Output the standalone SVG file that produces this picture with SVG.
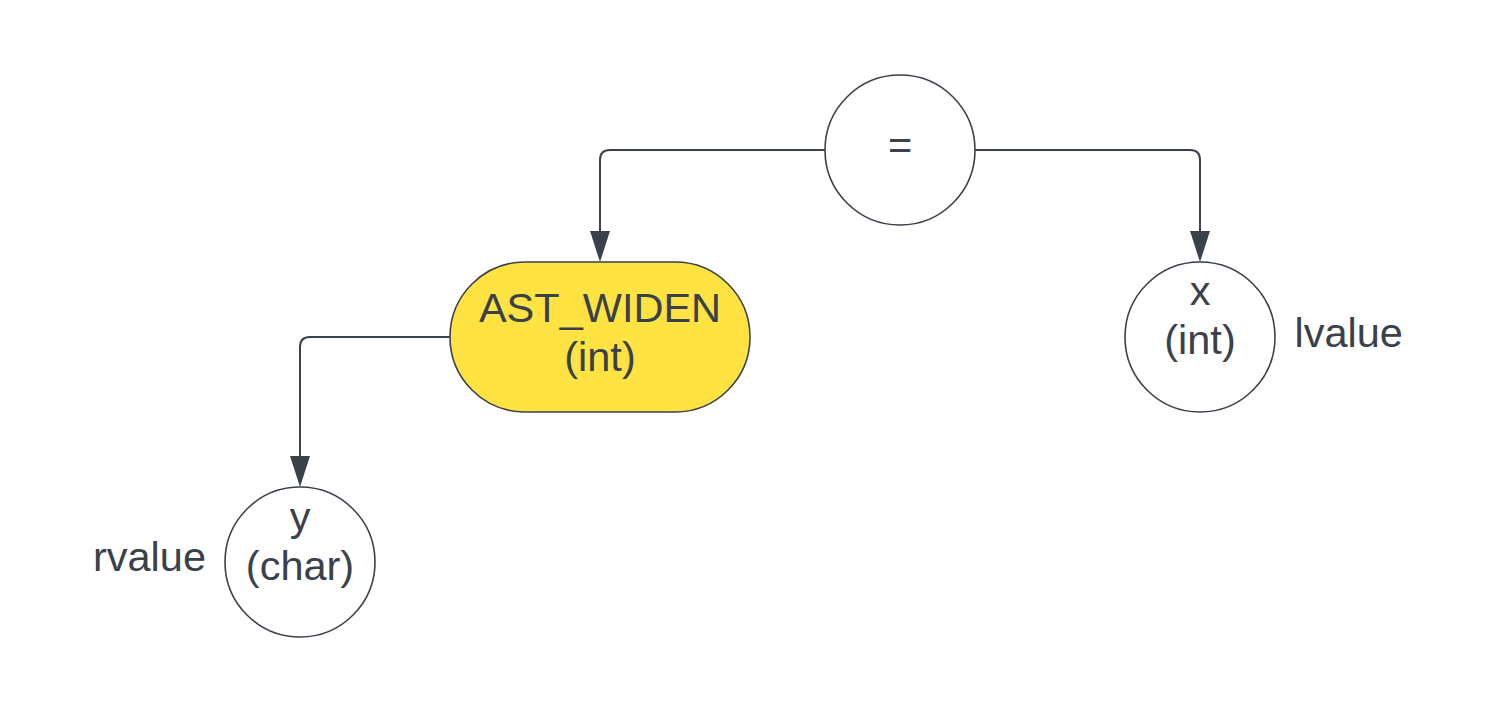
<svg xmlns="http://www.w3.org/2000/svg" width="1500" height="713" viewBox="0 0 1500 713">
  <style>
    .node { fill: #ffffff; stroke: #3a414a; stroke-width: 1.6; }
    .hl { fill: #ffe342; }
    .edge { fill: none; stroke: #3a414a; stroke-width: 2; }
    .t { font-family: "Liberation Sans", Arial, sans-serif; font-size: 41.5px; fill: #3a414a; text-anchor: middle; }
    .lbl { font-family: "Liberation Sans", Arial, sans-serif; font-size: 41.5px; fill: #3a414a; }
  </style>
  <defs>
    <marker id="arrow" viewBox="0 0 31 20" refX="24" refY="10" markerWidth="31" markerHeight="20" markerUnits="userSpaceOnUse" orient="auto">
      <path d="M0,0 L31,10 L0,20 Z" fill="#3a414a"/>
    </marker>
  </defs>
  <rect width="1500" height="713" fill="#ffffff"/>
  <g id="connectors">
    <path class="edge" d="M825,150 H610 Q600,150 600,160 V255" marker-end="url(#arrow)"/>
    <path class="edge" d="M975,150 H1190 Q1200,150 1200,160 V255" marker-end="url(#arrow)"/>
    <path class="edge" d="M450,337 H310 Q300,337 300,347 V480" marker-end="url(#arrow)"/>
  </g>
  <g id="node-assign">
    <circle class="node" cx="900" cy="150" r="75"/>
    <text class="t" x="900" y="159">=</text>
  </g>
  <g id="node-widen">
    <rect class="node hl" x="450" y="262" width="300" height="150" rx="75" ry="75"/>
    <text class="t" x="600" y="322">AST_WIDEN</text>
    <text class="t" x="600" y="371">(int)</text>
  </g>
  <g id="node-x">
    <circle class="node" cx="1200" cy="337" r="75"/>
    <text class="t" x="1200" y="305">x</text>
    <text class="t" x="1200" y="354">(int)</text>
  </g>
  <g id="label-lvalue">
    <text class="lbl" x="1294.5" y="347">lvalue</text>
  </g>
  <g id="node-y">
    <circle class="node" cx="300" cy="562" r="75"/>
    <text class="t" x="300" y="531">y</text>
    <text class="t" x="300" y="580">(char)</text>
  </g>
  <g id="label-rvalue">
    <text class="lbl" x="206" y="571" text-anchor="end">rvalue</text>
  </g>
</svg>
